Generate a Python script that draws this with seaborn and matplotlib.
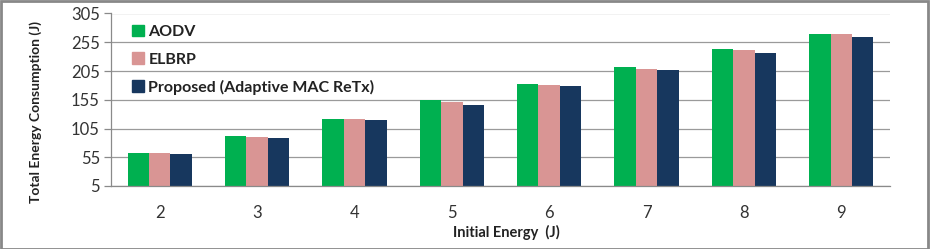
import matplotlib
matplotlib.use("Agg")
import matplotlib.pyplot as plt
import matplotlib.patches as mpatches
from matplotlib.ticker import FixedLocator
import seaborn as sns
import pandas as pd

categories = ["2", "3", "4", "5", "6", "7", "8", "9"]
aodv = [62.9, 91.9, 122.0, 154.4, 182.2, 211.8, 243.0, 269.7]
elbrp = [62.3, 90.1, 121.4, 151.0, 179.9, 208.9, 241.9, 269.7]
proposed = [60.0, 88.4, 119.7, 146.3, 179.3, 207.1, 236.1, 263.9]
series_names = ["AODV", "ELBRP", "Proposed (Adaptive MAC ReTx)"]
colors = ["#00B050", "#D99594", "#17375E"]
yticks = [5, 55, 105, 155, 205, 255, 305]

rows = []
for name, vals in zip(series_names, [aodv, elbrp, proposed]):
    for c, v in zip(categories, vals):
        rows.append({"Initial Energy": c, "Energy": v, "Series": name})
df = pd.DataFrame(rows)

sns.set_theme(style="white")
plt.rcParams["font.family"] = ["Lato", "DejaVu Sans"]

fig = plt.figure(figsize=(9.30, 2.49), dpi=100)
ax = fig.add_axes([111/930, 1-186/249, (890-111)/930, (186-13.5)/249])

sns.barplot(data=df, x="Initial Energy", y="Energy", hue="Series",
            order=categories, hue_order=series_names, palette=colors,
            width=0.66, saturation=1, ax=ax, legend=True, edgecolor="none")

ax.set_ylim(5, 305)
ax.set_xlim(-0.5, len(categories) - 0.5)
ax.set_yticks(yticks)
ax.set_yticklabels([str(t) for t in yticks], fontsize=12, color="#333333")
ax.yaxis.grid(True, color="#9a9a9a", linewidth=0.9)
ax.set_axisbelow(True)
ax.tick_params(axis="x", which="major", length=0, labelsize=12, labelcolor="#333333", pad=14)
ax.xaxis.set_minor_locator(FixedLocator([i - 0.5 for i in range(len(categories) + 1)]))
ax.tick_params(axis="x", which="minor", length=5, color="#8a8a8a", width=0.9, direction="out")
ax.tick_params(axis="y", length=5, color="#8a8a8a", width=0.9, direction="out", left=True, pad=3)

for s in ["top", "right"]:
    ax.spines[s].set_visible(False)
for s in ["left", "bottom"]:
    ax.spines[s].set_color("#8a8a8a")
    ax.spines[s].set_linewidth(0.9)

ax.set_xlabel("Initial Energy  (J)", fontsize=10.5, fontweight="bold", color="#222222")
ax.xaxis.set_label_coords((506 - 111) / 779, -(225 - 186) / 172.5)
ax.set_ylabel("Total Energy Consumption (J)", fontsize=10, fontweight="bold", color="#222222")
ax.yaxis.set_label_coords((42 - 111) / 779, (186 - 112) / 172.5)

handles = [mpatches.Patch(color=c, label=n) for c, n in zip(colors, series_names)]
ax.legend(handles=handles, loc="upper left", bbox_to_anchor=(0.012, 1.0), frameon=False,
          prop={"weight": "bold", "size": 11.5}, handlelength=0.75, handleheight=0.75,
          handletextpad=0.3, labelspacing=0.82, labelcolor="#222222", borderaxespad=0.3)

fig.patches.append(mpatches.Rectangle((0.001, 0.002), 0.997, 0.994, transform=fig.transFigure,
                                      fill=False, edgecolor="#888888", linewidth=2))

fig.savefig("out.png", dpi=100)
